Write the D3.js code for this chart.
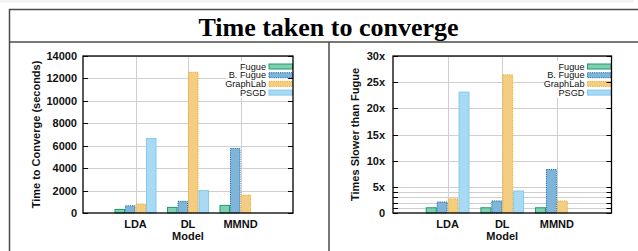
<!DOCTYPE html>
<html>
<head>
<meta charset="utf-8">
<script src="https://cdn.jsdelivr.net/npm/d3@7"></script>
<style>
html,body{margin:0;padding:0;background:#fff;}
svg{display:block;}
</style>
</head>
<body>
<svg id="chart" width="638" height="251"></svg>
<script>
const categories = ["LDA", "DL", "MMND"];
const seriesNames = ["Fugue", "B. Fugue", "GraphLab", "PSGD"];
// Time to converge (seconds), per series, per category
const timeFugue    = [320, 500, 680];
const timeBFugue   = [640, 1040, 5750];
const timeGraphLab = [800, 12550, 1600];
const timePSGD     = [6650, 2000, null];
// Times slower than Fugue
const slowFugue    = [1, 1, 1];
const slowBFugue   = [2.1, 2.3, 8.3];
const slowGraphLab = [2.7, 26.4, 2.3];
const slowPSGD     = [23.1, 4.2, null];
const leftTicks  = [0, 2000, 4000, 6000, 8000, 10000, 12000, 14000];
const rightTicks = [0, 5, 10, 15, 20, 25, 30];
const rightMinorTicks = [1, 2, 3, 4];

const styles = {
  "Fugue":    {fill: "#7fcfb0", stroke: "#1f9a6a", dash: null},
  "B. Fugue": {fill: "#80b5da", stroke: "#1c6aa8", dash: "1.2,1"},
  "GraphLab": {fill: "#f3cd82", stroke: "#efa72a", dash: "1.2,1"},
  "PSGD":     {fill: "#a9daf3", stroke: "#84c9ee", dash: null}
};

const svg = d3.select("#chart");

// page strip & table borders
svg.append("rect").attr("x", 0).attr("y", 0).attr("width", 634).attr("height", 2.5).attr("fill", "#f3f3f3");
const bc = "#4a4a4a";
svg.append("line").attr("x1", 9).attr("x2", 638).attr("y1", 9.5).attr("y2", 9.5).attr("stroke", bc).attr("stroke-width", 1.5);
svg.append("line").attr("x1", 9).attr("x2", 638).attr("y1", 42).attr("y2", 42).attr("stroke", bc).attr("stroke-width", 1.5);
svg.append("line").attr("x1", 9.5).attr("x2", 9.5).attr("y1", 9).attr("y2", 251).attr("stroke", bc).attr("stroke-width", 1.5);
svg.append("line").attr("x1", 329).attr("x2", 329).attr("y1", 42).attr("y2", 251).attr("stroke", bc).attr("stroke-width", 1.5);

svg.append("text").attr("x", 328.5).attr("y", 35.5).attr("text-anchor", "middle")
  .attr("font-family", "Liberation Serif, Times New Roman, serif").attr("font-weight", "bold")
  .attr("font-size", 26).attr("fill", "#000").text("Time taken to converge");

function panel(cfg) {
  const g = svg.append("g");
  const x = d3.scalePoint().domain(categories).range([cfg.left, cfg.right]).padding(1);
  const step = x.step();
  const inner = d3.scaleBand().domain(seriesNames).range([-0.4 * step, 0.4 * step]);
  const y = d3.scaleLinear().domain(cfg.domain).range([cfg.bottom, cfg.top]);

  // grid
  const gridVals = cfg.gridTicks;
  g.selectAll(".hg").data(gridVals).join("line")
    .attr("x1", cfg.left).attr("x2", cfg.right)
    .attr("y1", d => Math.round(y(d)) + 0.5).attr("y2", d => Math.round(y(d)) + 0.5)
    .attr("stroke", "#cfcfcf").attr("stroke-width", 1);
  g.selectAll(".vg").data(categories).join("line")
    .attr("x1", d => Math.round(x(d)) + 0.5).attr("x2", d => Math.round(x(d)) + 0.5)
    .attr("y1", cfg.top).attr("y2", cfg.bottom)
    .attr("stroke", "#cfcfcf").attr("stroke-width", 1);

  // bars
  cfg.series.forEach((vals, si) => {
    const name = seriesNames[si];
    const st = styles[name];
    const data = categories.map((c, i) => ({c, v: vals[i]})).filter(d => d.v != null);
    g.selectAll(".bar" + si).data(data).join("rect")
      .attr("x", d => x(d.c) + inner(name) + 0.5)
      .attr("width", inner.bandwidth() - 1)
      .attr("y", d => y(d.v))
      .attr("height", d => y(0) - y(d.v))
      .attr("fill", st.fill).attr("stroke", st.stroke).attr("stroke-width", 1)
      .attr("stroke-dasharray", st.dash);
  });

  // legend (opaque)
  const legTop = cfg.top + 5;
  const rowH = 8.7;
  g.append("rect").attr("x", cfg.right - 67).attr("y", legTop).attr("width", 66).attr("height", rowH * 4 + 2).attr("fill", "#fff");
  seriesNames.forEach((name, i) => {
    const st = styles[name];
    const cy = legTop + 5.5 + i * rowH;
    g.append("text").attr("x", cfg.right - 27).attr("y", cy + 3.2).attr("text-anchor", "end")
      .attr("font-family", "Liberation Sans, Arial, sans-serif").attr("font-size", 9.2).attr("fill", "#111").text(name);
    g.append("rect").attr("x", cfg.right - 24).attr("y", cy - 2.5).attr("width", 23.5).attr("height", 5)
      .attr("fill", st.fill).attr("stroke", st.stroke).attr("stroke-width", 1).attr("stroke-dasharray", st.dash);
  });

  // frame
  g.append("rect").attr("x", cfg.left).attr("y", cfg.top).attr("width", cfg.right - cfg.left).attr("height", cfg.bottom - cfg.top)
    .attr("fill", "none").attr("stroke", "#000").attr("stroke-width", 1.3);

  // ticks (inward, both sides)
  const allTicks = cfg.gridTicks.concat([0]);
  allTicks.forEach(t => {
    const yy = Math.round(y(t)) + 0.5;
    g.append("line").attr("x1", cfg.left).attr("x2", cfg.left + 5).attr("y1", yy).attr("y2", yy).attr("stroke", "#000");
    g.append("line").attr("x1", cfg.right - 5).attr("x2", cfg.right).attr("y1", yy).attr("y2", yy).attr("stroke", "#000");
  });

  const font = "Liberation Sans, Arial, sans-serif";
  g.selectAll(".yl").data(cfg.labelTicks).join("text")
    .attr("x", cfg.left - cfg.labelGap).attr("y", d => y(d) + 4).attr("text-anchor", "end")
    .attr("font-family", font).attr("font-weight", "bold").attr("font-size", 11).attr("fill", "#111")
    .text(cfg.fmt);
  g.selectAll(".xl").data(categories).join("text")
    .attr("x", d => x(d)).attr("y", cfg.bottom + 15).attr("text-anchor", "middle")
    .attr("font-family", font).attr("font-weight", "bold").attr("font-size", 11).attr("fill", "#111").text(d => d);
  g.append("text").attr("x", (cfg.left + cfg.right) / 2).attr("y", cfg.bottom + 26.5).attr("text-anchor", "middle")
    .attr("font-family", font).attr("font-weight", "bold").attr("font-size", 11).attr("fill", "#111").text("Model");
  g.append("text").attr("transform", `translate(${cfg.ylabX},${(cfg.top + cfg.bottom) / 2}) rotate(-90)`)
    .attr("text-anchor", "middle")
    .attr("font-family", font).attr("font-weight", "bold").attr("font-size", 11).attr("fill", "#111").text(cfg.ylabel);
}

panel({
  left: 83, right: 293, top: 56, bottom: 213,
  domain: [0, 14000],
  series: [timeFugue, timeBFugue, timeGraphLab, timePSGD],
  gridTicks: leftTicks.filter(d => d > 0),
  labelTicks: leftTicks,
  fmt: d => d,
  labelGap: 6,
  ylabX: 40,
  ylabel: "Time to Converge (seconds)"
});

panel({
  left: 393, right: 611.5, top: 56, bottom: 213,
  domain: [0, 30],
  series: [slowFugue, slowBFugue, slowGraphLab, slowPSGD],
  gridTicks: rightMinorTicks.concat(rightTicks.filter(d => d > 0)),
  labelTicks: rightTicks,
  fmt: d => d === 0 ? "0" : d + "x",
  labelGap: 8,
  ylabX: 359,
  ylabel: "Times Slower than Fugue"
});
</script>
</body>
</html>
